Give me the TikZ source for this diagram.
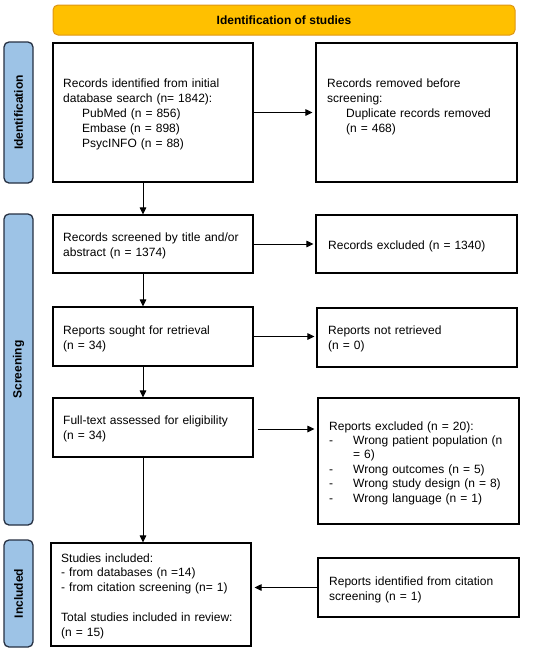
\documentclass[tikz,border=0pt]{standalone}
\usepackage{fontspec}
\setmainfont{Liberation Sans}
\usetikzlibrary{arrows.meta,calc}
\definecolor{bannerfill}{RGB}{255,192,0}
\definecolor{bannerdraw}{RGB}{222,150,20}
\definecolor{sidefill}{RGB}{157,195,230}
\definecolor{sidedraw}{RGB}{38,48,66}
\tikzset{
  box/.style={draw=black, line width=1.1pt, fill=white, inner sep=0pt, rectangle},
  banner/.style={draw=bannerdraw, fill=bannerfill, line width=1pt, rounded corners=5pt, inner sep=0pt, font=\fontsize{12}{14}\selectfont\bfseries},
  sidebar/.style={draw=sidedraw, fill=sidefill, line width=1.3pt, rounded corners=5pt, inner sep=0pt},
  sidelabel/.style={rotate=90, inner sep=0pt, font=\fontsize{12}{14}\selectfont\bfseries},
  txt/.style={anchor=base west, inner sep=0pt, text width=200pt, align=left, font=\fontsize{12}{15}\selectfont},
  arr/.style={line width=1pt, -{Triangle[length=7pt,width=6.5pt]}}
}
\begin{document}
\begin{tikzpicture}[x=1pt,y=-1pt]
\useasboundingbox (0,0) rectangle (550,651);
% banner
\node[banner, minimum width=462pt, minimum height=30pt] (ban) at (284,20) {Identification of studies};
% side bars
\node[sidebar, minimum width=29pt, minimum height=141pt] (sid) at (18.5,112.5) {};
\node[sidelabel] (sidl) at (sid.center) {Identification};
\node[sidebar, minimum width=29pt, minimum height=311pt] (sscr) at (18.5,369.5) {};
\node[sidelabel] (sscrl) at (sscr.center) {Screening};
\node[sidebar, minimum width=29pt, minimum height=107pt] (sinc) at (18.5,593.5) {};
\node[sidelabel] (sincl) at (sinc.center) {Included};
% boxes
\node[box, minimum width=200pt, minimum height=139pt] (b1) at (153,112.5) {};
\node[box, minimum width=201pt, minimum height=139pt] (b2) at (416.5,112.5) {};
\node[box, minimum width=200pt, minimum height=58pt] (b3) at (153,244) {};
\node[box, minimum width=201pt, minimum height=58pt] (b4) at (416.5,244) {};
\node[box, minimum width=200pt, minimum height=59pt] (b5) at (153,336.5) {};
\node[box, minimum width=200pt, minimum height=59pt] (b6) at (417,337.5) {};
\node[box, minimum width=200pt, minimum height=59pt] (b7) at (153,427.5) {};
\node[box, minimum width=201pt, minimum height=126pt] (b8) at (418.5,461) {};
\node[box, minimum width=200pt, minimum height=103pt] (b9) at (151,594.5) {};
\node[box, minimum width=201pt, minimum height=59pt] (b10) at (418.5,587.5) {};
% texts
\node[txt] (t1) at (63,87) {Records identified from initial\\database search (n= 1842):\\\hspace*{19pt}PubMed (n = 856)\\\hspace*{19pt}Embase (n = 898)\\\hspace*{19pt}PsycINFO (n = 88)};
\node[txt] (t2) at (327,87) {Records removed before\\screening:\\\hspace*{19pt}Duplicate records removed\\\hspace*{19pt}(n = 468)};
\node[txt] (t3) at (63,241) {Records screened by title and/or\\abstract (n = 1374)};
\node[txt] (t4) at (328,249) {Records excluded (n = 1340)};
\node[txt] (t5) at (63,334) {Reports sought for retrieval\\(n = 34)};
\node[txt] (t6) at (328,334) {Reports not retrieved\\(n = 0)};
\node[txt] (t7) at (63,424) {Full-text assessed for eligibility\\(n = 34)};
\node[txt, font=\fontsize{12}{14.4}\selectfont] (t8) at (329,430) {Reports excluded (n = 20):\\\makebox[24pt][l]{-}Wrong patient population (n\\\hspace*{24pt}= 6)\\\makebox[24pt][l]{-}Wrong outcomes (n = 5)\\\makebox[24pt][l]{-}Wrong study design (n = 8)\\\makebox[24pt][l]{-}Wrong language (n = 1)};
\node[txt, font=\fontsize{12}{14.8}\selectfont] (t9) at (61,562) {Studies included:\\- from databases (n =14)\\- from citation screening (n= 1)\\[14.8pt]Total studies included in review:\\(n = 15)};
\node[txt] (t10) at (329,585) {Reports identified from citation\\screening (n = 1)};
% connectors
\draw[arr] (b1.east) -- ([xshift=-3pt]b2.west);
\draw[arr] ([xshift=-10pt]b1.south) -- ([xshift=-10pt]b1.south |- b3.north);
\draw[arr] (b3.east) -- ([xshift=-2pt]b4.west);
\draw[arr] ([xshift=-10pt]b3.south) -- ([xshift=-10pt]b3.south |- b5.north);
\draw[arr] (b5.east) -- ([xshift=-2pt]b5.east -| b6.west);
\draw[arr] ([xshift=-10pt]b5.south) -- ([xshift=-10pt]b5.south |- b7.north);
\draw[arr] ([xshift=4pt,yshift=-1.5pt]b7.east) -- ([xshift=-3pt,yshift=-1.5pt]b7.east -| b8.west);
\draw[arr] ([xshift=-10pt]b7.south) -- ([xshift=-10pt]b7.south |- b9.north);
\draw[arr] (b10.west) -- ([xshift=3pt]b10.west -| b9.east);
\end{tikzpicture}
\end{document}
